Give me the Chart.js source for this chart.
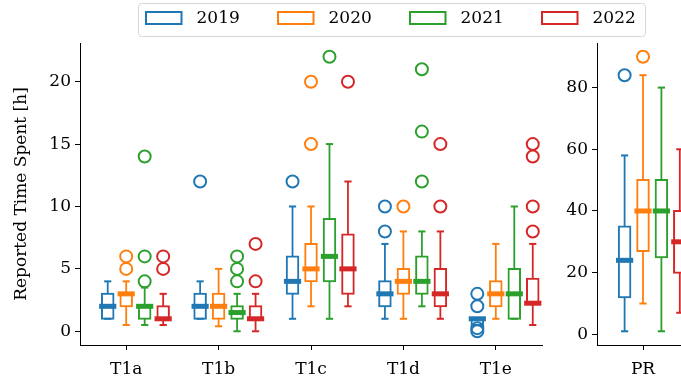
<!DOCTYPE html>
<html><head><meta charset="utf-8">
<script src="https://cdn.jsdelivr.net/npm/chart.js@4.4.0/dist/chart.umd.min.js"></script>
<style>
html,body{margin:0;padding:0;background:#fff;overflow:hidden;width:681px;height:381px;}
#wrap{position:relative;width:681px;height:381px;overflow:hidden;background:#fff;}
#c1{position:absolute;left:0;top:0;}
#c2{position:absolute;left:545px;top:0;}
</style></head><body>
<div id="wrap"><canvas id="c1" width="681" height="381"></canvas><canvas id="c2" width="144" height="381"></canvas></div>
<script>
// ---- data ----
const categories = ['T1a', 'T1b', 'T1c', 'T1d', 'T1e'];
const prCategory = ['PR'];
const years = ['2019', '2020', '2021', '2022'];
const yTicksT1 = [0, 5, 10, 15, 20];
const yTicksPR = [0, 20, 40, 60, 80];
const yLabel = 'Reported Time Spent [h]';

// per category: [whiskerLow, q1, median, q3, whiskerHigh]
const box2019 = [[1, 1, 2, 3, 4], [1, 1, 2, 3, 4], [1, 3, 4, 6, 10], [1, 2, 3, 4, 7], [0.5, 0.5, 1, 1, 1]];
const box2020 = [[0.5, 2, 3, 3, 4], [0.4, 1, 2, 3, 5], [2, 4, 5, 7, 10], [1, 3, 4, 5, 8], [1, 2, 3, 4, 7]];
const box2021 = [[0.5, 1, 2, 2, 3.5], [0, 1, 1.5, 2, 3], [1, 4, 6, 9, 15], [2, 3, 4, 6, 8], [1, 1, 3, 5, 10]];
const box2022 = [[0.5, 1, 1, 2, 3], [0, 1, 1, 2, 3], [2, 3, 5, 7.75, 12], [1, 2, 3, 5, 8], [0.5, 2.25, 2.25, 4.2, 7]];

const out2019 = [[], [12], [12], [8, 10], [0, 0.25, 2, 3]];
const out2020 = [[5, 6], [], [15, 20], [10], []];
const out2021 = [[4, 6, 14], [4, 5, 6], [22], [12, 16, 21], []];
const out2022 = [[5, 6], [4, 7], [20], [10, 15], [8, 10, 14, 15]];

const prBox2019 = [[1, 12, 24, 35, 58]];
const prBox2020 = [[10, 27, 40, 50, 84]];
const prBox2021 = [[1, 25, 40, 50, 80]];
const prBox2022 = [[7, 20, 30, 40, 60]];

const prOut2019 = [[84]];
const prOut2020 = [[90]];
const prOut2021 = [[]];
const prOut2022 = [[]];

// ---- styles ----
const colors = ['#1f77b4', '#ff7f0e', '#2ca02c', '#d62728'];
const offsets = [-0.2, 0, 0.2, 0.4];
const FONT = { family: "'DejaVu Serif', serif", size: 17 };

function buildDatasets(boxes, outs) {
  const ds = [];
  boxes.forEach((stats, s) => {
    const col = colors[s];
    const xs = stats.map((_, i) => i + offsets[s]);
    ds.push({ type: 'bar', label: years[s] + ' whiskers', data: stats.map((st, i) => ({ x: xs[i], y: [st[0], st[4]] })),
      backgroundColor: col, borderWidth: 0, barThickness: 1.8, grouped: false, inflateAmount: 0, order: 5 });
    ds.push({ type: 'bar', label: years[s], data: stats.map((st, i) => ({ x: xs[i], y: [st[1], st[3]] })),
      backgroundColor: '#ffffff', borderColor: col, borderWidth: 2, borderSkipped: false, barThickness: 11.5,
      grouped: false, inflateAmount: 1, order: 4 });
    const caps = [];
    stats.forEach((st, i) => { caps.push({ x: xs[i], y: st[0] }); caps.push({ x: xs[i], y: st[4] }); });
    ds.push({ type: 'scatter', label: years[s] + ' caps', data: caps, pointStyle: 'line', pointRadius: 3.6,
      pointBorderWidth: 2, borderColor: col, backgroundColor: col, order: 3 });
    ds.push({ type: 'scatter', label: years[s] + ' median', data: stats.map((st, i) => ({ x: xs[i], y: st[2] })),
      pointStyle: 'line', pointRadius: 8.6, pointBorderWidth: 5, borderColor: col, backgroundColor: col, order: 2 });
    const fl = [];
    outs[s].forEach((arr, i) => arr.forEach(v => fl.push({ x: xs[i], y: v })));
    ds.push({ type: 'scatter', label: years[s] + ' outliers', data: fl, pointStyle: 'circle', pointRadius: 6,
      pointBorderWidth: 2, borderColor: col, backgroundColor: 'rgba(0,0,0,0)', order: 1 });
  });
  return ds;
}

const axisGrid = { display: true, drawOnChartArea: false, drawTicks: true, tickLength: 5, color: '#000', lineWidth: 1, offset: false };
const axisBorder = { display: true, color: '#000', width: 1 };

const legendPlugin = {
  id: 'boxLegend',
  afterDraw(chart) {
    const ctx = chart.ctx;
    ctx.save();
    const L = 138.5, T = 3.5, W = 507, H = 33, r = 3;
    ctx.beginPath();
    ctx.moveTo(L + r, T); ctx.lineTo(L + W - r, T); ctx.arcTo(L + W, T, L + W, T + r, r);
    ctx.lineTo(L + W, T + H - r); ctx.arcTo(L + W, T + H, L + W - r, T + H, r);
    ctx.lineTo(L + r, T + H); ctx.arcTo(L, T + H, L, T + H - r, r);
    ctx.lineTo(L, T + r); ctx.arcTo(L, T, L + r, T, r); ctx.closePath();
    ctx.fillStyle = 'rgba(255,255,255,0.8)'; ctx.fill();
    ctx.strokeStyle = '#d6d6d6'; ctx.lineWidth = 1; ctx.stroke();
    ctx.font = FONT.size + 'px ' + FONT.family;
    ctx.textBaseline = 'middle'; ctx.textAlign = 'left';
    years.forEach((y, i) => {
      const x0 = 145 + i * 132;
      ctx.strokeStyle = colors[i]; ctx.lineWidth = 2;
      ctx.strokeRect(x0 + 1, 12, 35.5, 12);
      ctx.fillStyle = '#000';
      ctx.fillText(y, x0 + 51.5, 18.5);
    });
    ctx.restore();
  }
};

Chart.defaults.color = '#000';
Chart.defaults.font.family = FONT.family;
Chart.defaults.font.size = FONT.size;

new Chart(document.getElementById('c1'), {
  type: 'bar',
  data: { datasets: buildDatasets([box2019, box2020, box2021, box2022], [out2019, out2020, out2021, out2022]) },
  options: {
    responsive: false, animation: false, events: [],
    layout: { autoPadding: false, padding: { top: 43, right: 139, left: 0, bottom: 0 } },
    plugins: { legend: { display: false }, tooltip: { enabled: false } },
    scales: {
      x: { type: 'linear', min: -0.5, max: 4.5, offset: false,
        afterBuildTicks: s => { s.ticks = categories.map((c, i) => ({ value: i })); },
        ticks: { callback: v => categories[v], font: FONT, color: '#000', padding: 9, autoSkip: false, maxRotation: 0 },
        grid: axisGrid, border: axisBorder,
        afterFit: s => { s.height = 36; } },
      y: { type: 'linear', min: -1.1, max: 23.1,
        afterBuildTicks: s => { s.ticks = yTicksT1.map(v => ({ value: v })); },
        ticks: { font: FONT, color: '#000', padding: 4 },
        grid: axisGrid, border: axisBorder,
        title: { display: true, text: yLabel, font: FONT, color: '#000', padding: { top: 11, bottom: 0 } },
        afterFit: s => { s.width = 80; } }
    }
  },
  plugins: [legendPlugin]
});

new Chart(document.getElementById('c2'), {
  type: 'bar',
  data: { datasets: buildDatasets([prBox2019, prBox2020, prBox2021, prBox2022], [prOut2019, prOut2020, prOut2021, prOut2022]) },
  options: {
    responsive: false, animation: false, events: [],
    layout: { autoPadding: false, padding: { top: 43, right: 0, left: 0, bottom: 0 } },
    plugins: { legend: { display: false }, tooltip: { enabled: false } },
    scales: {
      x: { type: 'linear', min: -0.5, max: 0.5, offset: false,
        afterBuildTicks: s => { s.ticks = prCategory.map((c, i) => ({ value: i })); },
        ticks: { callback: v => prCategory[v], font: FONT, color: '#000', padding: 9, autoSkip: false, maxRotation: 0 },
        grid: axisGrid, border: axisBorder,
        afterFit: s => { s.height = 36; } },
      y: { type: 'linear', min: -3.45, max: 94.45,
        afterBuildTicks: s => { s.ticks = yTicksPR.map(v => ({ value: v })); },
        ticks: { font: FONT, color: '#000', padding: 4 },
        grid: axisGrid, border: axisBorder,
        afterFit: s => { s.width = 52; } }
    }
  }
});
</script>
</body></html>
